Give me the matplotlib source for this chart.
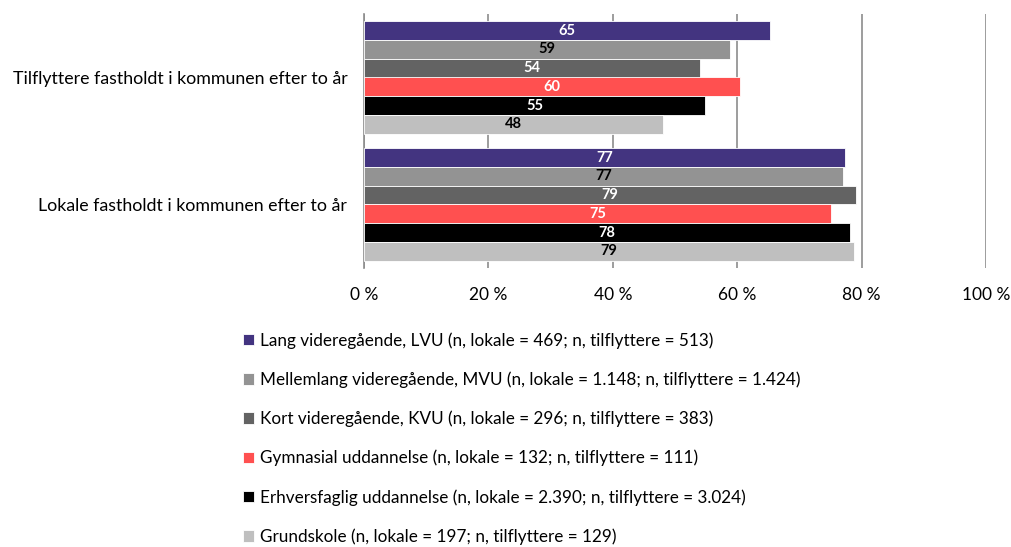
import matplotlib
matplotlib.use("Agg")
import matplotlib.pyplot as plt
import numpy as np

plt.rcParams['font.family'] = ['Lato', 'DejaVu Sans']

categories = ["Lokale fastholdt i kommunen efter to år",
              "Tilflyttere fastholdt i kommunen efter to år"]
series = [
    "Lang videregående, LVU (n, lokale = 469; n, tilflyttere = 513)",
    "Mellemlang videregående, MVU (n, lokale = 1.148; n, tilflyttere = 1.424)",
    "Kort videregående, KVU (n, lokale = 296; n, tilflyttere = 383)",
    "Gymnasial uddannelse (n, lokale = 132; n, tilflyttere = 111)",
    "Erhversfaglig uddannelse (n, lokale = 2.390; n, tilflyttere = 3.024)",
    "Grundskole (n, lokale = 197; n, tilflyttere = 129)",
]
# values per series: [lokale, tilflyttere]
values = [
    [77.4, 65.2],
    [77.0, 58.8],
    [79.1, 54.0],
    [75.1, 60.4],
    [78.1, 54.8],
    [78.8, 48.1],
]
labels = [
    [77, 65],
    [77, 59],
    [79, 54],
    [75, 60],
    [78, 55],
    [79, 48],
]
colors = ["#433480", "#939393", "#636363", "#FF5050", "#000000", "#BFBFBF"]
label_colors = ["white", "black", "white", "white", "white", "black"]
xticks = [0, 20, 40, 60, 80, 100]
xticklabels = ["0 %", "20 %", "40 %", "60 %", "80 %", "100 %"]

fig = plt.figure(figsize=(10.12, 5.47), dpi=100)
ax = fig.add_axes([364/1012, 1-268/547, (986-364)/1012, (268-14)/547])

h = 0.147
ypos = np.arange(len(categories))
handles = []
for i, (s, v, c, lc, lab) in enumerate(zip(series, values, colors, label_colors, labels)):
    y = ypos + (2.5 - i) * h
    b = ax.barh(y, v, height=h, color=c, edgecolor="white", linewidth=0.6, zorder=3, label=s)
    handles.append(b)
    for yy, vv, ll in zip(y, v, lab):
        ax.text(vv / 2, yy, str(ll), ha="center", va="center", color=lc,
                fontsize=10.5, fontweight="bold", zorder=4)

ax.set_xlim(0, 100)
ax.set_ylim(-0.5, 1.5)
ax.set_xticks(xticks)
ax.set_xticklabels(xticklabels, fontsize=12.5)
ax.set_yticks(ypos)
ax.set_yticklabels(categories, fontsize=12.8)
ax.tick_params(axis="both", length=0)
ax.tick_params(axis="x", pad=14)
ax.tick_params(axis="y", pad=12)
ax.grid(axis="x", color="#8c8c8c", linewidth=1.2, zorder=0)
for sp in ["top", "right", "bottom"]:
    ax.spines[sp].set_visible(False)
ax.spines["left"].set_color("#8c8c8c")
ax.spines["left"].set_linewidth(1.2)

fig.legend(handles=handles, labels=series, loc="upper left",
           bbox_to_anchor=(243/1012, 1-332/547), frameon=False, fontsize=12.3,
           handlelength=0.65, handleheight=0.65, handletextpad=0.35,
           labelspacing=1.33, borderaxespad=0, borderpad=0)

fig.savefig("out.png", dpi=100)
